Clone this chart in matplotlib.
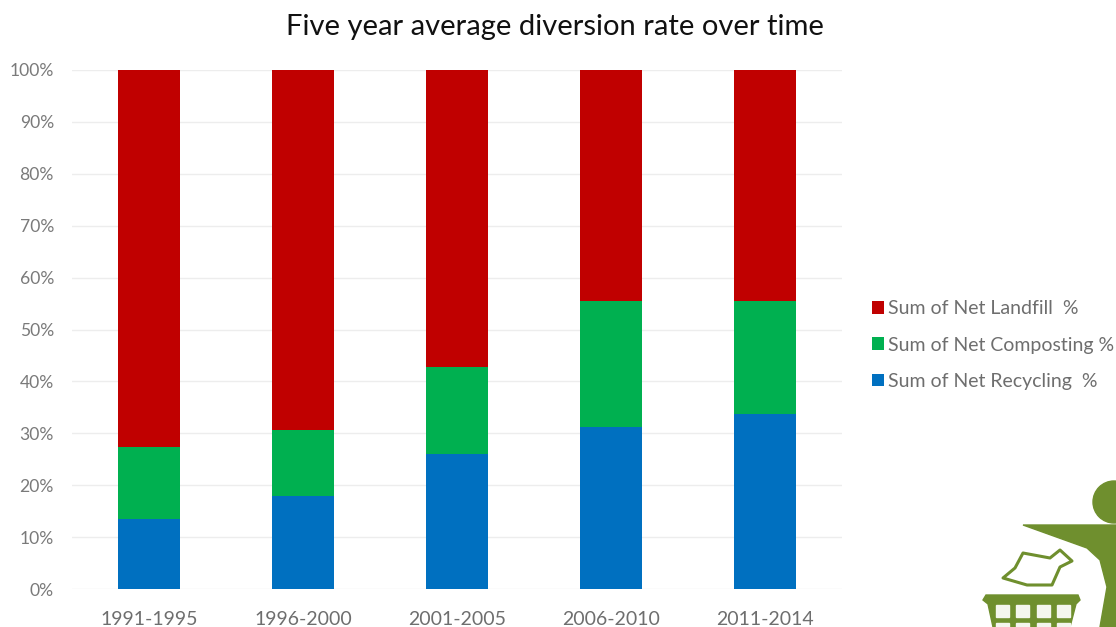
import matplotlib
matplotlib.use("Agg")
import matplotlib.pyplot as plt
from matplotlib.patches import Circle, Polygon, Rectangle

plt.rcParams['font.family'] = ['Lato', 'DejaVu Sans']

periods = ["1991-1995", "1996-2000", "2001-2005", "2006-2010", "2011-2014"]
recycling = [13.5, 18.0, 26.0, 31.3, 33.8]
composting = [13.9, 12.7, 16.8, 24.2, 21.7]
landfill = [72.6, 69.3, 57.2, 44.5, 44.5]
y_ticks = [0, 10, 20, 30, 40, 50, 60, 70, 80, 90, 100]

W, H = 1116, 627
fig = plt.figure(figsize=(W / 100, H / 100), dpi=100)
ax = fig.add_axes([72 / W, 1 - 589 / H, 770 / W, 519 / H])

x = list(range(len(periods)))
bottom2 = [a + b for a, b in zip(recycling, composting)]
ax.bar(x, recycling, width=0.4, color="#0070C0", label="Sum of Net Recycling  %", zorder=3)
ax.bar(x, composting, width=0.4, bottom=recycling, color="#00B050", label="Sum of Net Composting %", zorder=3)
ax.bar(x, landfill, width=0.4, bottom=bottom2, color="#C00000", label="Sum of Net Landfill  %", zorder=3)

ax.set_xlim(-0.5, 4.5)
ax.set_ylim(0, 100)
ax.set_xticks(x)
ax.set_xticklabels(periods)
ax.set_yticks(y_ticks)
ax.set_yticklabels([str(v) + "%" for v in y_ticks])
ax.tick_params(axis="x", length=0, colors="#6E6E6E", labelsize=14, pad=16)
ax.tick_params(axis="y", length=0, colors="#7A7A7A", labelsize=12.6, pad=13)
ax.grid(axis="y", color="#EDEDED", linewidth=1, zorder=0)
for s in ax.spines.values():
    s.set_visible(False)

fig.text(555 / W, 1 - 27 / H, "Five year average diversion rate over time",
         ha="center", va="center", fontsize=21, color="#111111")

handles, labels = ax.get_legend_handles_labels()
leg = fig.legend(handles[::-1], labels[::-1], loc="center left",
                 bbox_to_anchor=(872 / W, 1 - 345 / H), frameon=False, fontsize=14,
                 labelcolor="#6E6E6E", handlelength=0.62, handleheight=0.62,
                 handletextpad=0.2, labelspacing=1.0, borderpad=0, borderaxespad=0)

# bin icon, pixel coords
icon = fig.add_axes([0, 0, 1, 1], facecolor="none")
icon.set_xlim(0, W)
icon.set_ylim(H, 0)
icon.axis("off")
green = "#6F8F2E"
icon.add_patch(Circle((1114, 502), 21, color=green))
icon.add_patch(Polygon([(1023, 525), (1116, 525), (1116, 627), (1100, 627), (1107, 587),
                        (1100, 560), (1087, 548)], color=green))
icon.add_patch(Polygon([(1023, 553), (1050, 558), (1060, 550), (1072, 561), (1060, 567),
                        (1052, 585), (1027, 585), (1003, 578), (1015, 568)],
                       fill=False, ec=green, lw=2.2, joinstyle="round"))
icon.add_patch(Polygon([(986, 595), (1078, 595), (1080, 600), (1076, 604), (1070, 627),
                        (993, 627), (988, 604), (983, 600)], color=green))
for hx in (996, 1016, 1037, 1057):
    icon.add_patch(Rectangle((hx, 605), 13, 12, color="#F4F6EE"))
    icon.add_patch(Rectangle((hx, 623), 13, 4, color="#F4F6EE"))

fig.savefig("out.png", dpi=100)
